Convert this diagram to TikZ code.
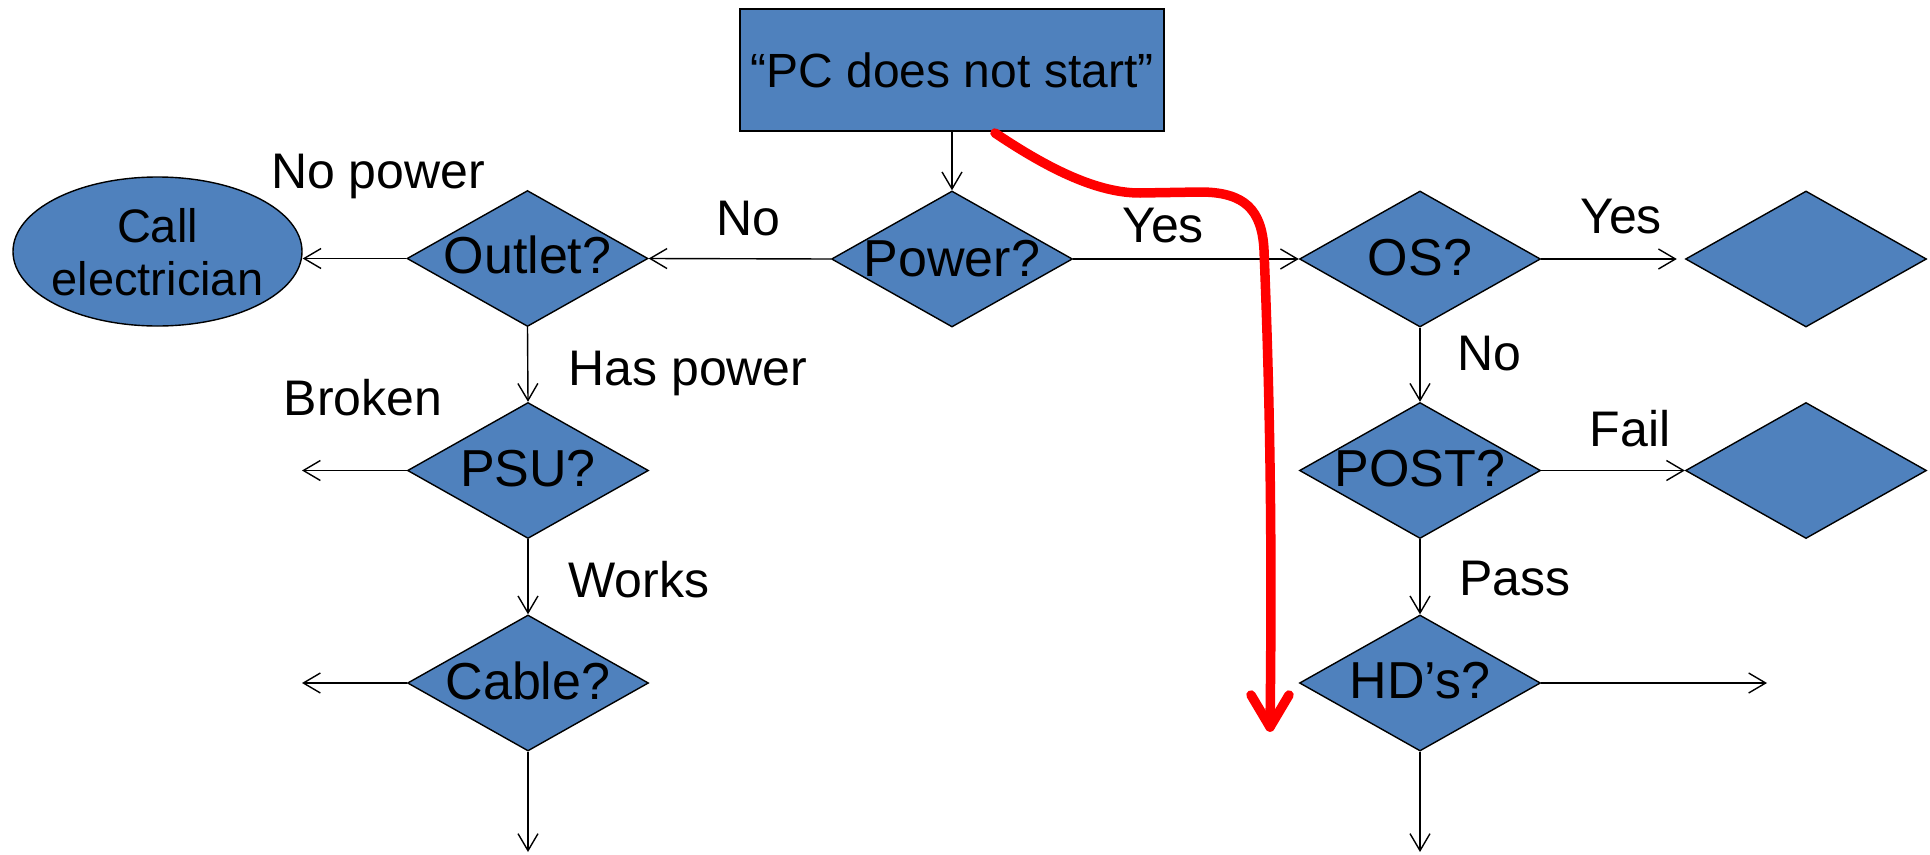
\documentclass[tikz,border=0pt]{standalone}
\usepackage{fontspec}
\setmainfont{Liberation Sans}
\usetikzlibrary{shapes.geometric,arrows.meta}
\definecolor{nodeblue}{HTML}{4F81BD}
\definecolor{annred}{HTML}{FF0000}
\begin{document}
\begin{tikzpicture}[x=1pt,y=-1pt,
  dia/.style={shape=diamond, draw=black, fill=nodeblue, line width=1.4pt,
    minimum width=241pt, minimum height=136pt, inner sep=0pt},
  dtext/.style={font=\fontsize{52}{58}\selectfont, inner sep=0pt},
  lab/.style={font=\fontsize{50}{56}\selectfont, inner sep=0pt, anchor=base},
  conn/.style={line width=1.4pt, -{Straight Barb[length=17pt,width=20pt,line width=1.4pt]}},
  boxnode/.style={draw=black, fill=nodeblue, line width=1.4pt, minimum width=424pt,
    minimum height=122pt, inner sep=0pt, font=\fontsize{48}{54}\selectfont},
  ellnode/.style={shape=ellipse, draw=black, fill=nodeblue, line width=1.4pt,
    minimum width=289pt, minimum height=149pt, inner sep=0pt},
  etext/.style={font=\fontsize{47}{53}\selectfont, align=center, inner sep=0pt},
  redpen/.style={draw=annred, line width=9.5pt, line cap=round, line join=round}
  ]
\useasboundingbox (0,0) rectangle (1930,854);

% nodes
\node[boxnode] (start) at (952,70) {“PC does not start”};
\node[dia] (power) at (952,259) {};
\node[dtext] (power-t) at (952,259) {Power?};
\node[dia] (outlet) at (527.5,258.5) {};
\node[dtext] (outlet-t) at (527.5,255) {Outlet?};
\node[ellnode] (elec) at (157.5,251.5) {};
\node[etext] (elec-t) at (157.5,252) {Call\\electrician};
\node[dia] (psu) at (528,470.5) {};
\node[dtext] (psu-t) at (528,469) {PSU?};
\node[dia] (cable) at (528,683) {};
\node[dtext] (cable-t) at (528,681) {Cable?};
\node[dia] (os) at (1420,259) {};
\node[dtext] (os-t) at (1420,258) {OS?};
\node[dia] (post) at (1420,470.5) {};
\node[dtext] (post-t) at (1420,469) {POST?};
\node[dia] (hd) at (1420,683) {};
\node[dtext] (hd-t) at (1420,681) {HD’s?};
\node[dia] (d1) at (1806,259) {};
\node[dia] (d2) at (1806,470.5) {};

% free ends
\coordinate (psuL) at (302,470.5);
\coordinate (cableL) at (302,683);
\coordinate (cableD) at (528,852);
\coordinate (hdR) at (1767,683);
\coordinate (hdD) at (1420,852);

% connectors
\draw[conn] (start.south) -- (power.north);
\draw[conn] (power.west) -- (outlet.east);
\draw[conn] (outlet.west) -- (elec.east |- outlet.west);
\draw[conn] (power.east) -- (os.west);
\draw[conn, shorten >=8pt] (os.east) -- (d1.west);
\draw[conn] (os.south) -- (post.north);
\draw[conn] (post.east) -- (d2.west);
\draw[conn] (post.south) -- (hd.north);
\draw[conn] (hd.east) -- (hdR);
\draw[conn] (hd.south) -- (hdD);
\draw[conn] (outlet.south) -- (psu.north);
\draw[conn] (psu.west) -- (psuL);
\draw[conn] (psu.south) -- (cable.north);
\draw[conn] (cable.west) -- (cableL);
\draw[conn] (cable.south) -- (cableD);

% labels
\node[lab] (l-nopower) at (378,188) {No power};
\node[lab] (l-no1) at (748,235) {No};
\node[lab] (l-yes1) at (1163,242) {Yes};
\node[lab] (l-haspower) at (688,385) {Has power};
\node[lab] (l-broken) at (363,415) {Broken};
\node[lab] (l-works) at (639,597) {Works};
\node[lab] (l-yes2) at (1621,233) {Yes};
\node[lab] (l-no2) at (1489,370) {No};
\node[lab] (l-fail) at (1630,446) {Fail};
\node[lab] (l-pass) at (1515,595) {Pass};

% red annotation
\coordinate (r0) at (995,133);
\coordinate (rtip) at (1270,727);
\draw[redpen] (r0) .. controls (1050,170) and (1098,193) .. (1140,193)
  -- (1200,192) .. controls (1245,192) and (1262,210) .. (1264,250)
  .. controls (1268,350) and (1273,500) .. (rtip);
\draw[redpen] (1251,695) -- (rtip) -- (1289,695);
\end{tikzpicture}
\end{document}
